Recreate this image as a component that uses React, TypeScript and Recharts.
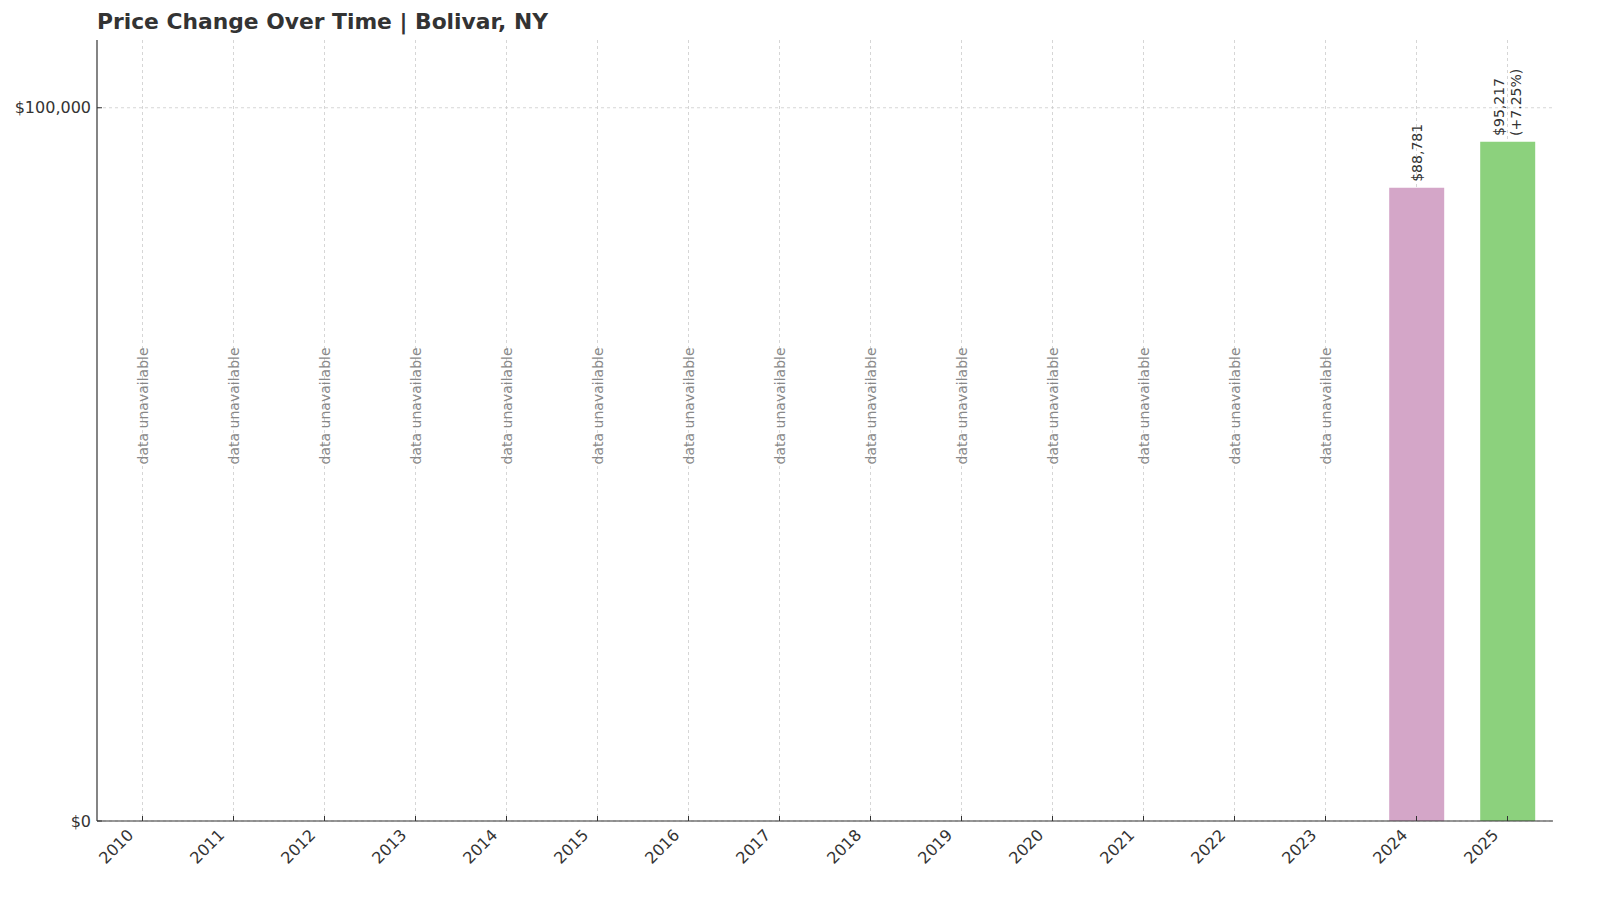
import { BarChart, Bar, XAxis, YAxis, CartesianGrid, Cell, LabelList } from "recharts";

const years = [
  "2010", "2011", "2012", "2013", "2014", "2015", "2016", "2017",
  "2018", "2019", "2020", "2021", "2022", "2023", "2024", "2025",
];
const prices: (number | null)[] = [
  null, null, null, null, null, null, null, null,
  null, null, null, null, null, null, 88781, 95217,
];
const changes: (string | null)[] = [
  null, null, null, null, null, null, null, null,
  null, null, null, null, null, null, null, "+7.25%",
];
const barColors: Record<string, string> = { "2024": "#d4a6c8", "2025": "#8cd17d" };
const yTicks = [0, 100000];
// where the "data unavailable" notes start
const noteLevel = 50000;

const data = years.map((year, i) => ({
  year,
  price: prices[i],
  change: changes[i],
  note: prices[i] == null ? noteLevel : null,
}));

const FONT = "DejaVu Sans";
const money = (v: number) => "$" + v.toLocaleString("en-US");

const PriceLabel = (props: any) => {
  const { x, y, width, value } = props;
  if (value == null) return null;
  const cx = x + width / 2;
  const by = y - 6;
  const lines = [money(value)];
  const row = data.find((d) => d.price === value);
  if (row && row.change) lines.push(`(${row.change})`);
  return (
    <text
      x={cx}
      y={by}
      transform={`rotate(-90, ${cx}, ${by})`}
      textAnchor="start"
      fontSize={14}
      fontFamily={FONT}
      fill="#333"
    >
      {lines.map((l, k) => (
        <tspan key={k} x={cx} y={by + (k - (lines.length - 1) / 2) * 16.5} dominantBaseline="central">
          {l}
        </tspan>
      ))}
    </text>
  );
};

const NoteLabel = (props: any) => {
  const { x, y, width, value } = props;
  if (value == null) return null;
  const cx = x + width / 2;
  return (
    <text
      x={cx}
      y={y}
      transform={`rotate(-90, ${cx}, ${y})`}
      textAnchor="start"
      dominantBaseline="central"
      fontSize={14}
      fontFamily={FONT}
      fill="#888"
    >
      data unavailable
    </text>
  );
};

// ticks point inward, like the original
const YearTick = (props: any) => {
  const { x, y, payload } = props;
  return (
    <g>
      <line x1={x} x2={x} y1={y} y2={y - 5} stroke="#333" />
      <g transform={`translate(${x - 8},${y + 15})`}>
        <text
          x={0}
          y={0}
          transform="rotate(-45)"
          textAnchor="end"
          fontSize={16}
          fontFamily={FONT}
          fill="#333"
        >
          {payload.value}
        </text>
      </g>
    </g>
  );
};

const PriceTick = (props: any) => {
  const { x, y, payload } = props;
  return (
    <g>
      <line x1={x} x2={x + 5} y1={y} y2={y} stroke="#333" />
      <text x={x - 6} y={y} dy="0.355em" textAnchor="end" fontSize={16} fontFamily={FONT} fill="#333">
        {money(payload.value)}
      </text>
    </g>
  );
};

const App = () => {
  return (
    <div style={{ position: "fixed", left: 0, top: 0, width: 1600, height: 900, background: "#fff" }}>
      <div
        style={{
          position: "absolute",
          left: 97,
          top: 9,
          fontFamily: FONT,
          fontWeight: "bold",
          fontSize: 21.8,
          color: "#333",
        }}
      >
        Price Change Over Time | Bolivar, NY
      </div>
      <BarChart
        width={1600}
        height={900}
        data={data}
        margin={{ top: 40, right: 47, left: 10, bottom: 19 }}
        barCategoryGap="20%"
      >
        <CartesianGrid stroke="#cccccc" strokeDasharray="3 3" strokeWidth={0.8} syncWithTicks />
        <XAxis
          dataKey="year"
          height={60}
          tick={<YearTick />}
          tickLine={false}
          tickSize={0}
          tickMargin={0}
          axisLine={{ stroke: "#333", strokeWidth: 1.2 }}
          interval={0}
        />
        <YAxis
          width={87}
          domain={[0, 109500]}
          ticks={yTicks}
          tick={<PriceTick />}
          tickLine={false}
          tickSize={0}
          tickMargin={0}
          axisLine={{ stroke: "#333", strokeWidth: 1.2 }}
        />
        <Bar dataKey="price" stackId="a" isAnimationActive={false}>
          {data.map((d) => (
            <Cell key={d.year} fill={barColors[d.year] ?? "#ccc"} />
          ))}
          <LabelList dataKey="price" content={<PriceLabel />} />
        </Bar>
        <Bar dataKey="note" stackId="a" fill="transparent" isAnimationActive={false}>
          <LabelList dataKey="note" content={<NoteLabel />} />
        </Bar>
      </BarChart>
    </div>
  );
};

export default App;
